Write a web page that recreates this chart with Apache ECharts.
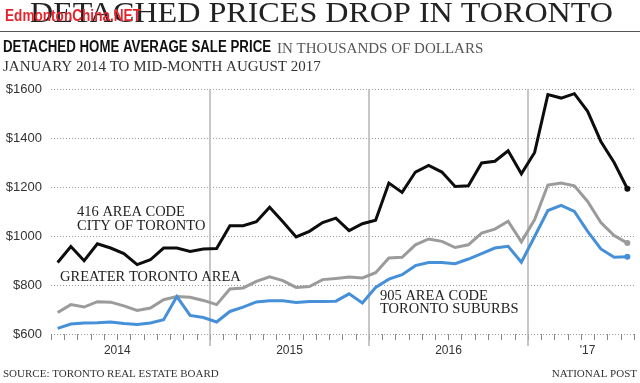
<!DOCTYPE html>
<html>
<head>
<meta charset="utf-8">
<script src="https://cdn.jsdelivr.net/npm/echarts@6/dist/echarts.min.js"></script>
<style>html,body{margin:0;padding:0;background:#fff;}#c{width:640px;height:383px;}</style>
</head>
<body>
<div id="c"></div>
<script>
// Months Jan 2014 - Aug 2017
const months = [
  '2014-01','2014-02','2014-03','2014-04','2014-05','2014-06','2014-07','2014-08','2014-09','2014-10','2014-11','2014-12',
  '2015-01','2015-02','2015-03','2015-04','2015-05','2015-06','2015-07','2015-08','2015-09','2015-10','2015-11','2015-12',
  '2016-01','2016-02','2016-03','2016-04','2016-05','2016-06','2016-07','2016-08','2016-09','2016-10','2016-11','2016-12',
  '2017-01','2017-02','2017-03','2017-04','2017-05','2017-06','2017-07','2017-08'
];
// 416 area code, City of Toronto (thousands of dollars)
const city416 = [892,957,899,968,951,928,883,903,951,951,937,947,
                 949,1042,1042,1058,1117,1058,996,1019,1055,1073,1022,1050,
                 1064,1216,1178,1261,1288,1261,1202,1205,1298,1305,1348,1254,
                 1341,1577,1563,1581,1509,1386,1300,1193];
// Greater Toronto Area
const gta = [688,720,710,732,730,715,696,706,740,753,750,737,
             720,784,788,815,833,818,790,794,822,827,833,829,
             850,910,913,964,988,978,953,964,1012,1028,1060,976,
             1067,1208,1216,1205,1141,1055,1002,971];
// 905 area code, Toronto suburbs
const suburbs905 = [623,641,645,646,649,643,639,645,658,753,676,667,
                    649,692,710,731,736,736,729,733,733,734,764,727,
                    790,824,842,879,892,892,887,906,928,951,958,893,
                    998,1104,1125,1100,1019,947,913,915];
const yearLabels = ['2014','2015','2016',"'17"];
const yearLabelAt = [5,18,30,40.5];   // month-index anchors of the year labels
const yearBreaks = [12,24,36];

const SERIF = '"Liberation Serif", "Times New Roman", serif';
const SANS = '"Liberation Sans", Arial, sans-serif';

const chart = echarts.init(document.getElementById('c'), null, {renderer:'canvas'});
const last = months.length - 1;
function mkSeries(name, data, color, z){
  return {
    name, type:'line', data, xAxisIndex:0, yAxisIndex:0, z,
    symbol:'circle',
    symbolSize:(v,p)=> p.dataIndex===last ? 6 : 0,
    showSymbol:true, silent:true, animation:false,
    lineStyle:{color, width:3, join:'miter'},
    itemStyle:{color}
  };
}
const labelMap = {};
yearLabelAt.forEach((p,i)=>labelMap[p]=yearLabels[i]);

const option = {
  animation:false,
  backgroundColor:'#fff',
  grid:{left:51, right:6, top:89, bottom:49},
  xAxis:[
    {type:'category', data:months, boundaryGap:true, position:'bottom',
     axisLine:{show:false},
     axisTick:{show:true, interval:0, length:6, lineStyle:{color:'#8a8a8a', width:1}},
     axisLabel:{show:false}, splitLine:{show:false}},
    {type:'value', min:0, max:44, interval:12, position:'bottom', offset:0,
     axisLine:{show:false, onZero:false},
     axisTick:{show:true, customValues:yearBreaks, length:12, lineStyle:{color:'#b4b4b4', width:1.5}},
     axisLabel:{show:false},
     splitLine:{show:true, showMinLine:true, showMaxLine:true, lineStyle:{color:'#b4b4b4', width:1.5, type:'solid'}}},
    {type:'value', min:0, max:44, interval:0.5, position:'bottom', offset:0,
     axisLine:{show:false, onZero:false}, axisTick:{show:false}, splitLine:{show:false},
     axisLabel:{show:true, customValues:yearLabelAt, margin:11,
       formatter:(v)=> labelMap[v] || '',
       fontFamily:SANS, fontSize:12, color:'#333'}}
  ],
  yAxis:{type:'value', min:600, max:1600, interval:200,
    axisLine:{show:false}, axisTick:{show:false},
    axisLabel:{formatter:(v)=> '$' + v, fontFamily:SANS, fontSize:13, color:'#333', margin:9},
    splitLine:{show:true, lineStyle:{color:'#9a9a9a', width:1, type:[1,2]}}},
  series:[
    mkSeries('Greater Toronto Area', gta, '#9b9b9b', 2),
    mkSeries('905 area code, Toronto suburbs', suburbs905, '#4690d8', 3),
    mkSeries('416 area code, City of Toronto', city416, '#0d0d0d', 4)
  ],
  graphic:[
    {type:'text', x:30, y:14.5, scaleX:1.07, z:10, style:{text:'DETACHED PRICES DROP IN TORONTO', font:'normal 30px '+SERIF, fill:'#222', verticalAlign:'middle'}},
    {type:'text', x:5, y:16, scaleX:0.8, z:11, style:{text:'EdmontonChina.NET', font:'bold 17px '+SANS, fill:'#e3262d', verticalAlign:'middle'}},
    {type:'line', z:10, shape:{x1:0, y1:31.5, x2:640, y2:31.5}, style:{stroke:'#555', lineWidth:1}},
    {type:'text', x:3, y:48, scaleX:0.83, z:10, style:{text:'DETACHED HOME AVERAGE SALE PRICE', font:'bold 16px '+SANS, fill:'#111', verticalAlign:'middle'}},
    {type:'text', x:277, y:49, z:10, style:{text:'IN THOUSANDS OF DOLLARS', font:'normal 15px '+SERIF, fill:'#555', verticalAlign:'middle'}},
    {type:'text', x:3, y:67, z:10, style:{text:'JANUARY 2014 TO MID-MONTH AUGUST 2017', font:'normal 15px '+SERIF, fill:'#333', verticalAlign:'middle'}},
    {type:'text', x:77, y:212.5, z:10, style:{text:'416 AREA CODE', font:'normal 14.5px '+SERIF, fill:'#222', verticalAlign:'middle'}},
    {type:'text', x:77, y:226.5, z:10, style:{text:'CITY OF TORONTO', font:'normal 14.5px '+SERIF, fill:'#222', verticalAlign:'middle'}},
    {type:'text', x:60, y:277, z:10, style:{text:'GREATER TORONTO AREA', font:'normal 14.5px '+SERIF, fill:'#222', verticalAlign:'middle'}},
    {type:'text', x:380, y:296, z:10, style:{text:'905 AREA CODE', font:'normal 14.5px '+SERIF, fill:'#222', verticalAlign:'middle'}},
    {type:'text', x:380, y:309, z:10, style:{text:'TORONTO SUBURBS', font:'normal 14.5px '+SERIF, fill:'#222', verticalAlign:'middle'}},
    {type:'text', x:3, y:374, z:10, style:{text:'SOURCE: TORONTO REAL ESTATE BOARD', font:'normal 11px '+SERIF, fill:'#333', verticalAlign:'middle'}},
    {type:'text', x:637, y:374, z:10, style:{text:'NATIONAL POST', font:'normal 11px '+SERIF, fill:'#333', verticalAlign:'middle', align:'right'}}
  ]
};
chart.setOption(option);
</script>
</body>
</html>
